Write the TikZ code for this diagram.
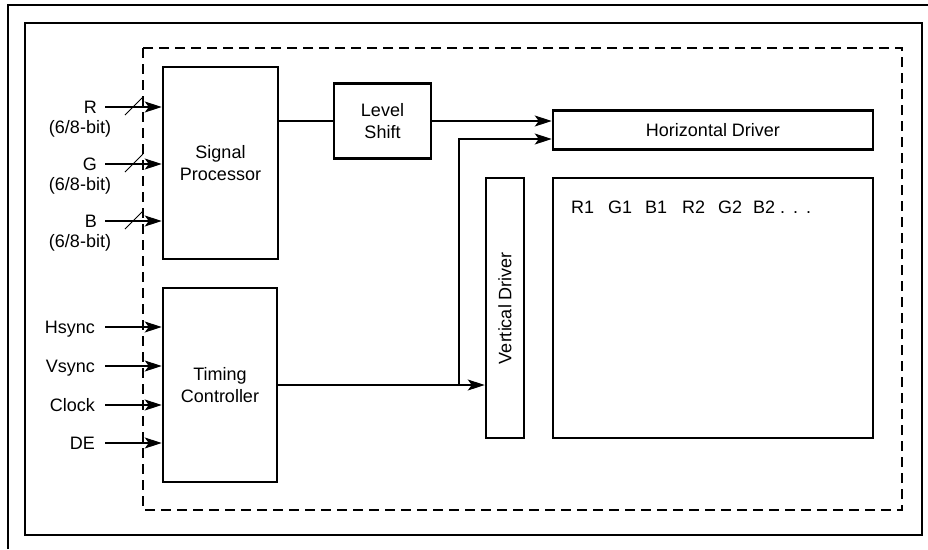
\documentclass[tikz,border=0pt]{standalone}
\usepackage{fontspec}
\setmainfont{Liberation Sans}
\usetikzlibrary{arrows.meta,calc}
\begin{document}
\begin{tikzpicture}[x=1pt,y=-1pt,
  txt/.style={font=\fontsize{18}{22}\selectfont},
  blk/.style={draw,line width=2.5pt,txt,align=center,inner sep=0pt},
  lbl/.style={txt,inner sep=0pt},
  wire/.style={line width=1.1pt},
  arr/.style={wire,-{Stealth[length=17pt,width=11pt,inset=4pt]}},
  busmark/.style={line width=1pt},
  frame/.style={line width=1.5pt},
  dbox/.style={line width=1.4pt,dash pattern=on 10pt off 6pt}]
\useasboundingbox (0,0) rectangle (928,549);
% frames
\draw[frame] (8,549) -- (8,5) -- (928,5);
\draw[frame] (25,23) rectangle (922,535);
\draw[dbox] (143,48) rectangle (902,510);
% blocks
\node[blk,minimum width=115pt,minimum height=192pt] (SP) at (220.5,163) {Signal\\Processor};
\node[blk,minimum width=114pt,minimum height=194pt] (TC) at (220,385) {Timing\\Controller};
\node[blk,minimum width=97pt,minimum height=75pt] (LS) at (382.5,121) {Level\\Shift};
\node[blk,minimum width=320pt,minimum height=39pt] (HD) at (713,130) {Horizontal Driver};
\node[blk,minimum width=38pt,minimum height=260pt] (VD) at (505,308) {\rotatebox{90}{Vertical Driver}};
\node[blk,minimum width=320pt,minimum height=260pt] (PA) at (713,308) {};
\node[lbl,anchor=base west] (pix) at (571,213)
  {\makebox[37pt][l]{R1}\makebox[37pt][l]{G1}\makebox[37pt][l]{B1}\makebox[36pt][l]{R2}\makebox[35pt][l]{G2}B2\hspace{5pt}.\hspace{8pt}.\hspace{8pt}.};
% connectors
\draw[wire] (SP.east |- LS.west) -- (LS.west);
\draw[arr] (LS.east) -- ([yshift=9pt]HD.west);
\draw[arr] (TC.east) -- (TC.east -| VD.west);
\coordinate (J) at (459,385);
\draw[arr] (J) |- ([yshift=-9pt]HD.west);
% RGB inputs
\foreach \n/\t/\y in {R/R/107,G/G/164,B/B/221}{
  \node[lbl,anchor=base east] (l\n) at (97,\y+6) {\t};
  \node[lbl,anchor=base] (b\n) at (80,\y+26) {(6/8-bit)};
  \coordinate (a\n) at (105,\y);
  \draw[arr] (a\n) -- (a\n -| SP.west);
  \draw[busmark] ($(a\n)+(20,8)$) -- ($(a\n)+(38,-10)$);
}
% timing inputs
\foreach \n/\t/\y in {H/Hsync/327,V/Vsync/366,C/Clock/405,D/DE/443}{
  \node[lbl,anchor=base east] (l\n) at (95,\y+6) {\t};
  \coordinate (a\n) at (105,\y);
  \draw[arr] (a\n) -- (a\n -| TC.west);
}
\end{tikzpicture}
\end{document}
